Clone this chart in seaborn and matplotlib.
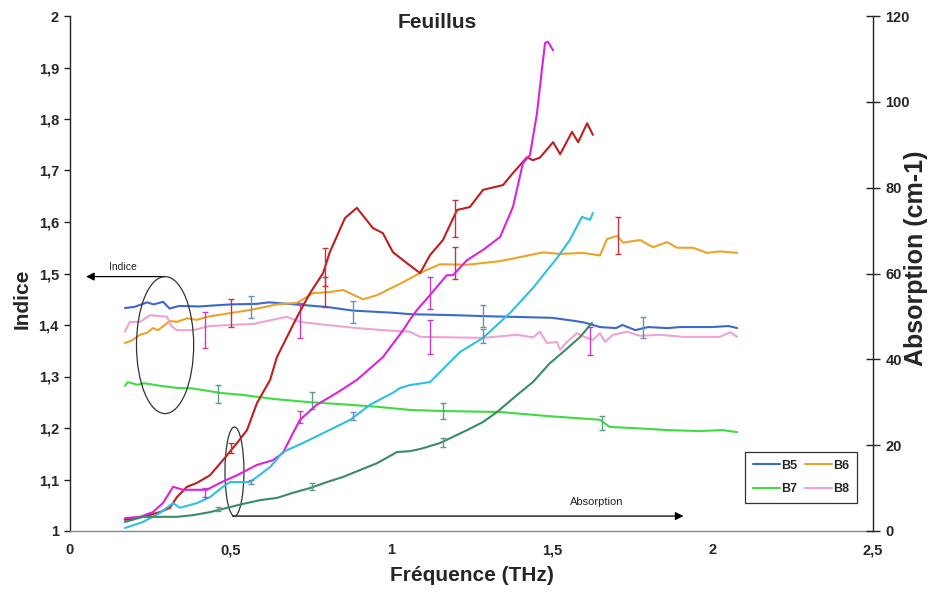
import numpy as np
import pandas as pd
import matplotlib
matplotlib.use("Agg")
import matplotlib.pyplot as plt
from matplotlib.patches import Ellipse
from matplotlib.ticker import FuncFormatter, MultipleLocator
import seaborn as sns

# ---------------- data ----------------
# Index curves (left axis)
b5_x = [0.171, 0.20, 0.24, 0.26, 0.29, 0.31, 0.34, 0.40, 0.50, 0.58, 0.62, 0.70, 0.80, 0.88, 1.00, 1.06,
        1.20, 1.30, 1.50, 1.57, 1.60, 1.65, 1.70, 1.72, 1.76, 1.80, 1.86, 1.90, 2.00, 2.05, 2.077]
b5_y = [1.433, 1.435, 1.444, 1.440, 1.445, 1.432, 1.437, 1.436, 1.440, 1.441, 1.444, 1.440, 1.435, 1.428, 1.424, 1.421,
        1.419, 1.417, 1.414, 1.408, 1.405, 1.396, 1.394, 1.400, 1.390, 1.396, 1.394, 1.396, 1.396, 1.398, 1.394]

b6_x = [0.171, 0.193, 0.218, 0.24, 0.258, 0.274, 0.311, 0.333, 0.364, 0.395, 0.427, 0.498, 0.56, 0.644, 0.707,
        0.757, 0.809, 0.85, 0.912, 0.956, 1.037, 1.09, 1.152, 1.236, 1.339, 1.473, 1.526, 1.597, 1.65, 1.672,
        1.703, 1.722, 1.775, 1.815, 1.859, 1.89, 1.94, 1.983, 2.024, 2.077]
b6_y = [1.365, 1.370, 1.381, 1.385, 1.394, 1.390, 1.408, 1.406, 1.413, 1.410, 1.416, 1.423, 1.429, 1.440, 1.443,
        1.462, 1.464, 1.468, 1.450, 1.458, 1.483, 1.501, 1.518, 1.517, 1.524, 1.541, 1.538, 1.540, 1.535, 1.567,
        1.573, 1.560, 1.565, 1.551, 1.561, 1.550, 1.550, 1.540, 1.543, 1.540]

b7_x = [0.171, 0.18, 0.21, 0.23, 0.28, 0.33, 0.38, 0.47, 0.54, 0.64, 0.75, 0.85, 0.96, 1.06, 1.16, 1.34,
        1.49, 1.65, 1.68, 1.75, 1.86, 1.96, 2.03, 2.077]
b7_y = [1.282, 1.289, 1.284, 1.287, 1.282, 1.278, 1.277, 1.268, 1.264, 1.256, 1.250, 1.246, 1.241, 1.235, 1.233, 1.231,
        1.223, 1.216, 1.202, 1.200, 1.196, 1.194, 1.196, 1.192]

b8_x = [0.171, 0.186, 0.218, 0.249, 0.302, 0.317, 0.333, 0.383, 0.436, 0.498, 0.57, 0.675, 0.716, 0.80, 0.894,
        0.974, 1.058, 1.09, 1.286, 1.392, 1.442, 1.463, 1.485, 1.516, 1.526, 1.547, 1.578, 1.597, 1.628, 1.65,
        1.666, 1.69, 1.734, 1.775, 1.837, 1.908, 1.961, 2.023, 2.055, 2.077]
b8_y = [1.387, 1.406, 1.406, 1.419, 1.416, 1.397, 1.390, 1.390, 1.398, 1.400, 1.402, 1.416, 1.406, 1.400, 1.394,
        1.390, 1.387, 1.377, 1.375, 1.381, 1.376, 1.387, 1.365, 1.367, 1.352, 1.367, 1.384, 1.378, 1.371, 1.384,
        1.367, 1.381, 1.387, 1.379, 1.381, 1.377, 1.377, 1.377, 1.386, 1.377]

# Absorption curves (right axis, cm-1)
red_x = [0.171, 0.227, 0.28, 0.311, 0.333, 0.364, 0.395, 0.436, 0.476, 0.52, 0.551, 0.582, 0.623, 0.644, 0.707,
         0.747, 0.788, 0.809, 0.856, 0.893, 0.943, 0.974, 1.005, 1.049, 1.09, 1.121, 1.161, 1.205, 1.245, 1.286,
         1.348, 1.379, 1.423, 1.441, 1.463, 1.504, 1.526, 1.563, 1.582, 1.61, 1.628]
red_y = [2.6, 3.3, 4.4, 5.4, 7.9, 10.3, 11.2, 13.0, 16.5, 20.5, 23.5, 29.8, 35.2, 40.5, 49.9,
         55.4, 60.1, 65.0, 72.9, 75.3, 70.6, 69.4, 65.0, 62.4, 60.1, 64.3, 67.8, 74.8, 75.5, 79.5,
         80.6, 83.4, 87.1, 86.4, 87.0, 90.6, 87.8, 93.0, 90.6, 95.0, 92.3]

mag_x = [0.171, 0.218, 0.258, 0.289, 0.321, 0.352, 0.426, 0.467, 0.52, 0.582, 0.632, 0.663, 0.694, 0.716, 0.768,
         0.831, 0.893, 0.974, 1.037, 1.058, 1.08, 1.121, 1.173, 1.192, 1.236, 1.286, 1.339, 1.379, 1.41, 1.432,
         1.454, 1.469, 1.479, 1.488, 1.504]
mag_y = [3.0, 3.3, 4.4, 6.5, 10.3, 9.6, 9.6, 11.2, 13.0, 15.4, 16.5, 18.2, 22.8, 25.9, 29.4,
         32.2, 35.2, 40.5, 46.8, 49.2, 51.5, 55.0, 59.6, 59.6, 63.1, 65.5, 68.5, 75.5, 85.7, 87.6,
         97.4, 107.4, 113.7, 114.0, 112.0]

cyan_x = [0.171, 0.227, 0.28, 0.321, 0.342, 0.395, 0.436, 0.476, 0.498, 0.56, 0.582, 0.623, 0.663, 0.725, 0.788,
          0.872, 0.934, 1.005, 1.027, 1.058, 1.121, 1.214, 1.286, 1.37, 1.441, 1.516, 1.556, 1.594, 1.619, 1.628]
cyan_y = [0.7, 2.1, 4.2, 6.5, 5.4, 6.5, 7.9, 10.3, 11.4, 11.4, 12.6, 14.9, 18.4, 20.5, 22.8,
          25.9, 29.4, 32.2, 33.3, 34.0, 34.7, 41.7, 45.0, 50.8, 56.6, 63.6, 67.8, 73.2, 72.5, 74.1]

dkg_x = [0.171, 0.227, 0.28, 0.333, 0.383, 0.436, 0.489, 0.538, 0.592, 0.644, 0.694, 0.747, 0.80, 0.85, 0.903,
         0.956, 1.018, 1.058, 1.09, 1.152, 1.236, 1.286, 1.329, 1.392, 1.441, 1.494, 1.535, 1.588, 1.625]
dkg_y = [2.1, 3.3, 3.3, 3.3, 3.7, 4.4, 5.4, 6.3, 7.2, 7.7, 8.9, 10.0, 11.4, 12.6, 14.2,
         15.8, 18.4, 18.6, 19.1, 20.5, 23.5, 25.4, 27.7, 31.7, 34.7, 39.1, 41.7, 45.2, 48.5]

# Error bars (index)
eb5_x, eb5_y, eb5_e = [0.563, 0.88, 1.286, 1.785], [1.435, 1.425, 1.417, 1.395], [0.021, 0.021, 0.021, 0.020]
eb6_x, eb6_y, eb6_e = [0.50, 0.794, 1.20, 1.707], [1.423, 1.464, 1.520, 1.574], [0.027, 0.030, 0.031, 0.036]
eb7_x, eb7_y, eb7_e = [0.46, 0.754, 1.16, 1.657], [1.266, 1.253, 1.233, 1.210], [0.017, 0.016, 0.015, 0.013]
eb8_x, eb8_y, eb8_e = [0.42, 0.716, 1.12, 1.62], [1.390, 1.409, 1.377, 1.369], [0.035, 0.034, 0.033, 0.027]
# Error bars (absorption)
ebr_x, ebr_y, ebr_e = [0.50, 0.794, 1.20], [19.3, 61.5, 72.8], [1.2, 4.4, 4.3]
ebm_x, ebm_y, ebm_e = [0.42, 0.716, 1.12], [9.0, 26.6, 55.4], [1.0, 1.4, 3.7]
ebc_x, ebc_y, ebc_e = [0.563, 0.88, 1.286], [11.4, 26.8, 45.5], [0.5, 1.0, 1.6]
ebg_x, ebg_y, ebg_e = [0.46, 0.754, 1.16], [5.1, 10.3, 20.6], [0.5, 0.8, 1.0]

series_labels = ["B5", "B6", "B7", "B8"]

# ---------------- style ----------------
sns.set_style("white")
plt.rcParams['font.family'] = ['Liberation Sans', 'DejaVu Sans']

C_B5, C_B6, C_B7, C_B8 = "#3a68cc", "#eda22a", "#3fdc3f", "#efa3d2"
C_RED, C_MAG, C_CYA, C_DKG = "#c01e1e", "#dc22dc", "#2ec0e0", "#3a8c62"
E_B5, E_B6, E_B7, E_B8 = "#6a8fb8", "#b83a3a", "#5a9e88", "#c83ac8"

fig = plt.figure(figsize=(9.31, 5.99), dpi=100)
ax = fig.add_axes([70/931, 1-531/599, 803/931, 515/599])
ax2 = ax.twinx()

lw = 1.5
for xs, ys, c, lab in [(b5_x, b5_y, C_B5, series_labels[0]), (b6_x, b6_y, C_B6, series_labels[1]),
                       (b7_x, b7_y, C_B7, series_labels[2]), (b8_x, b8_y, C_B8, series_labels[3])]:
    sns.lineplot(x=xs, y=ys, ax=ax, color=c, lw=lw, label=lab, estimator=None, sort=False)

for xs, ys, c in [(red_x, red_y, C_RED), (mag_x, mag_y, C_MAG),
                  (cyan_x, cyan_y, C_CYA), (dkg_x, dkg_y, C_DKG)]:
    sns.lineplot(x=xs, y=ys, ax=ax2, color=c, lw=lw, estimator=None, sort=False, legend=False)

for xs, ys, es, c in [(eb5_x, eb5_y, eb5_e, E_B5), (eb6_x, eb6_y, eb6_e, E_B6),
                      (eb7_x, eb7_y, eb7_e, E_B7), (eb8_x, eb8_y, eb8_e, E_B8)]:
    ax.errorbar(xs, ys, yerr=es, fmt='none', ecolor=c, elinewidth=1.0, capsize=2.5, capthick=1.0)
for xs, ys, es, c in [(ebr_x, ebr_y, ebr_e, E_B6), (ebm_x, ebm_y, ebm_e, E_B8),
                      (ebc_x, ebc_y, ebc_e, E_B5), (ebg_x, ebg_y, ebg_e, E_B7)]:
    ax2.errorbar(xs, ys, yerr=es, fmt='none', ecolor=c, elinewidth=1.0, capsize=2.5, capthick=1.0)

# axes limits / ticks
ax.set_xlim(0, 2.5)
ax.set_ylim(1, 2)
ax2.set_ylim(0, 120)
ax.xaxis.set_major_locator(MultipleLocator(0.5))
ax.yaxis.set_major_locator(MultipleLocator(0.1))
ax2.yaxis.set_major_locator(MultipleLocator(20))
fmt = FuncFormatter(lambda v, p: f"{v:g}".replace('.', ','))
ax.xaxis.set_major_formatter(fmt)
ax.yaxis.set_major_formatter(fmt)

for a in (ax, ax2):
    a.spines['top'].set_visible(False)
    a.grid(False)
ax.spines['right'].set_visible(False)
ax2.spines['left'].set_visible(False)
ax2.spines['bottom'].set_visible(False)
ax.spines['left'].set_color('#222222')
ax.spines['bottom'].set_color('#888888')
ax2.spines['right'].set_color('#222222')
for s in ('left', 'bottom'):
    ax.spines[s].set_linewidth(1.0)
ax2.spines['right'].set_linewidth(1.0)

ax.tick_params(axis='y', direction='out', length=4, width=1, color='#222222', pad=4, labelsize=10.5)
ax.tick_params(axis='x', direction='out', length=4, width=1, color='#222222', pad=5, labelsize=10.5)
ax2.tick_params(axis='y', direction='inout', length=10, width=1, color='#222222', pad=4, labelsize=10.5)
for lab in ax.get_xticklabels() + ax.get_yticklabels() + ax2.get_yticklabels():
    lab.set_fontweight('bold')

ax.set_xlabel("Fréquence (THz)", fontsize=15, fontweight='bold', labelpad=6)
ax.set_ylabel("Indice", fontsize=15, fontweight='bold')
ax2.set_ylabel("Absorption (cm-1)", fontsize=18, fontweight='bold')
ax.yaxis.set_label_coords(-0.06, 0.45)
ax2.yaxis.set_label_coords(1.054, 0.53)
ax2.yaxis.label.set_va('center')
ax.yaxis.label.set_va('center')

fig.text(437/931, 1-22/599, "Feuillus", ha='center', va='center', fontsize=15, fontweight='bold')

# annotations
ax.add_patch(Ellipse((0.296, 1.361), width=0.178, height=0.266, fill=False, edgecolor='#333333', lw=0.9, zorder=5))
ax.add_patch(Ellipse((0.512, 1.1155), width=0.059, height=0.173, fill=False, edgecolor='#333333', lw=0.9, zorder=5))
ax.annotate("", xy=(0.05, 1.494), xytext=(0.296, 1.494),
            arrowprops=dict(arrowstyle='-|>', color='black', lw=0.9, mutation_scale=12, shrinkA=0, shrinkB=0))
ax.annotate("", xy=(1.91, 1.029), xytext=(0.506, 1.029),
            arrowprops=dict(arrowstyle='-|>', color='black', lw=0.9, mutation_scale=12, shrinkA=0, shrinkB=0))
ax.text(0.165, 1.512, "Indice", ha='center', va='center', fontsize=7.5, color='#222222')
ax.text(1.64, 1.057, "Absorption", ha='center', va='center', fontsize=8, color='#222222')

# legend (row-wise order: B5 B6 / B7 B8)
handles, labels = ax.get_legend_handles_labels()
order = [0, 2, 1, 3]
leg = ax.legend([handles[i] for i in order], [labels[i] for i in order], ncol=2, loc='lower left',
                bbox_to_anchor=(0.833, 0.043, 0.155, 0.103),
                mode='expand', fontsize=9, frameon=True, fancybox=False, framealpha=1,
                edgecolor='#333333', handlelength=2.2, handletextpad=0.1, columnspacing=1.0,
                borderpad=0.6, labelspacing=0.9)
leg.get_frame().set_linewidth(0.9)
for t in leg.get_texts():
    t.set_fontweight('bold')
leg.set_zorder(10)

fig.savefig("out.png", dpi=100)
